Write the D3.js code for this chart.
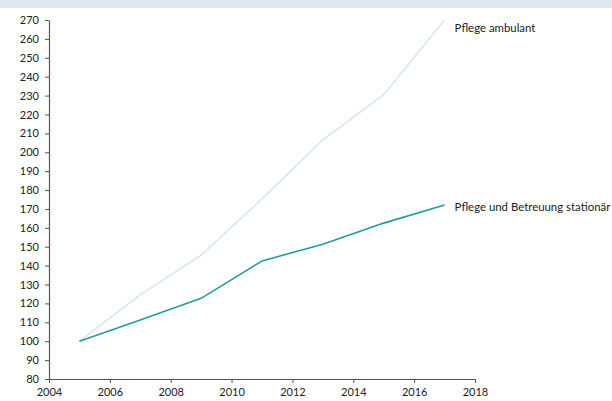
<!DOCTYPE html>
<html>
<head>
<meta charset="utf-8">
<script src="https://cdn.jsdelivr.net/npm/d3@7"></script>
<style>
  html, body { margin: 0; padding: 0; background: #fff; }
  svg { display: block; }
  text { font-family: Lato, "Open Sans", sans-serif; fill: #222; }
</style>
</head>
<body>
<svg id="chart" width="612" height="401"></svg>
<script>
// Index, 2005 = 100
const years = [2005, 2007, 2009, 2011, 2013, 2015, 2017];
const ambulant = [100, 124.5, 145.6, 175.3, 206.6, 230.5, 270];
const stationaer = [100, 111.2, 122.7, 142.5, 151.3, 162.5, 172.1];
const seriesNames = ["Pflege ambulant", "Pflege und Betreuung stationär"];
const yTicks = d3.range(80, 271, 10);
const xTicks = d3.range(2004, 2019, 2);

const svg = d3.select("#chart");
const W = 612, H = 401;

svg.append("rect").attr("x", 0).attr("y", 0).attr("width", W).attr("height", 8).attr("fill", "#e1e6ec");

const x = d3.scaleLinear().domain([2004, 2018]).range([49, 475]);
const y = d3.scaleLinear().domain([80, 270]).range([379, 20]);

const yAxis = d3.axisLeft(y).tickValues(yTicks).tickSize(4).tickSizeOuter(0).tickPadding(6);
const xAxis = d3.axisBottom(x).tickValues(xTicks).tickFormat(d3.format("d")).tickSize(4).tickSizeOuter(0).tickPadding(5);

const gy = svg.append("g").attr("transform", "translate(49,0)").call(yAxis);
const gx = svg.append("g").attr("transform", "translate(0,379)").call(xAxis);
[gy, gx].forEach(g => {
  g.selectAll("path.domain").attr("stroke", "#555").attr("stroke-width", 1.2);
  g.selectAll(".tick line").attr("stroke", "#555");
  g.selectAll(".tick text").attr("font-size", 11).attr("fill", "#222").style("font-family", "Lato, 'Open Sans', sans-serif");
});

const line = d3.line().x((d, i) => x(years[i])).y(d => y(d));

// labelDy: baseline offset of the end label below the line end
const series = [
  { name: seriesNames[0], values: ambulant, color: "#d2ebe6", labelDy: 12 },
  { name: seriesNames[1], values: stationaer, color: "#1a9ea0", labelDy: 6 }
];

series.forEach(s => {
  svg.append("path")
    .datum(s.values)
    .attr("fill", "none")
    .attr("stroke", s.color)
    .attr("stroke-width", 1.6)
    .attr("d", line);
  const last = s.values[s.values.length - 1];
  svg.append("text")
    .attr("x", x(years[years.length - 1]) + 10)
    .attr("y", y(last) + s.labelDy)
    .attr("font-size", 11.4)
    .text(s.name);
});
</script>
</body>
</html>
